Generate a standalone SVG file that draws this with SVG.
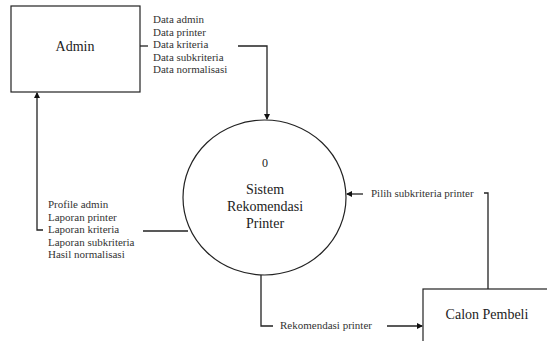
<svg xmlns="http://www.w3.org/2000/svg" width="547" height="341" viewBox="0 0 547 341">
<style>
.box{fill:#fff;stroke:#222;stroke-width:1.2}
.ln{fill:none;stroke:#222;stroke-width:1.3}
text{font-family:'Liberation Serif','Times New Roman','DejaVu Serif',serif}
.t{fill:#222}
.lbl{fill:#333;font-size:11px}
</style>
<defs>
<marker id="ah" markerWidth="6" markerHeight="6" refX="5" refY="3" orient="auto" markerUnits="userSpaceOnUse">
<path d="M0,0 L6,3 L0,6 Z" fill="#111"/>
</marker>
</defs>
<rect width="547" height="341" fill="#fff"/>
<g id="admin">
<rect class="box" x="11" y="6" width="129" height="86"/>
<text class="t" x="75" y="51" font-size="14" text-anchor="middle">Admin</text>
</g>
<g id="sistem">
<ellipse class="box" cx="264.5" cy="197.5" rx="81.5" ry="77.5"/>
<text class="t" x="265" y="167" font-size="12" text-anchor="middle">0</text>
<text class="t" x="265" y="194" font-size="14" text-anchor="middle">Sistem</text>
<text class="t" x="265" y="211" font-size="14" text-anchor="middle">Rekomendasi</text>
<text class="t" x="265" y="228" font-size="14" text-anchor="middle">Printer</text>
</g>
<g id="calon">
<rect class="box" x="423" y="289" width="140" height="70"/>
<text class="t" x="487" y="319" font-size="14" text-anchor="middle">Calon Pembeli</text>
</g>
<g id="connectors">
<path class="ln" d="M140,46 H148"/>
<path class="ln" d="M238,46 H267 V119" marker-end="url(#ah)"/>
<path class="ln" d="M143,231 H188"/>
<path class="ln" d="M43,230 H37 V93" marker-end="url(#ah)"/>
<path class="ln" d="M261,275 V326 H273"/>
<path class="ln" d="M387,326 H422" marker-end="url(#ah)"/>
<path class="ln" d="M488,289 V193 H484"/>
<path class="ln" d="M363,194 H347" marker-end="url(#ah)"/>
<text class="lbl" x="153" y="23">Data admin</text>
<text class="lbl" x="153" y="35.5">Data printer</text>
<text class="lbl" x="153" y="48">Data kriteria</text>
<text class="lbl" x="153" y="60.5">Data subkriteria</text>
<text class="lbl" x="153" y="73">Data normalisasi</text>
<text class="lbl" x="48" y="208">Profile admin</text>
<text class="lbl" x="48" y="220.5">Laporan printer</text>
<text class="lbl" x="48" y="233">Laporan kriteria</text>
<text class="lbl" x="48" y="245.5">Laporan subkriteria</text>
<text class="lbl" x="48" y="258">Hasil normalisasi</text>
<text class="lbl" x="280" y="329">Rekomendasi printer</text>
<text class="lbl" x="371" y="197">Pilih subkriteria printer</text>
</g>
</svg>
